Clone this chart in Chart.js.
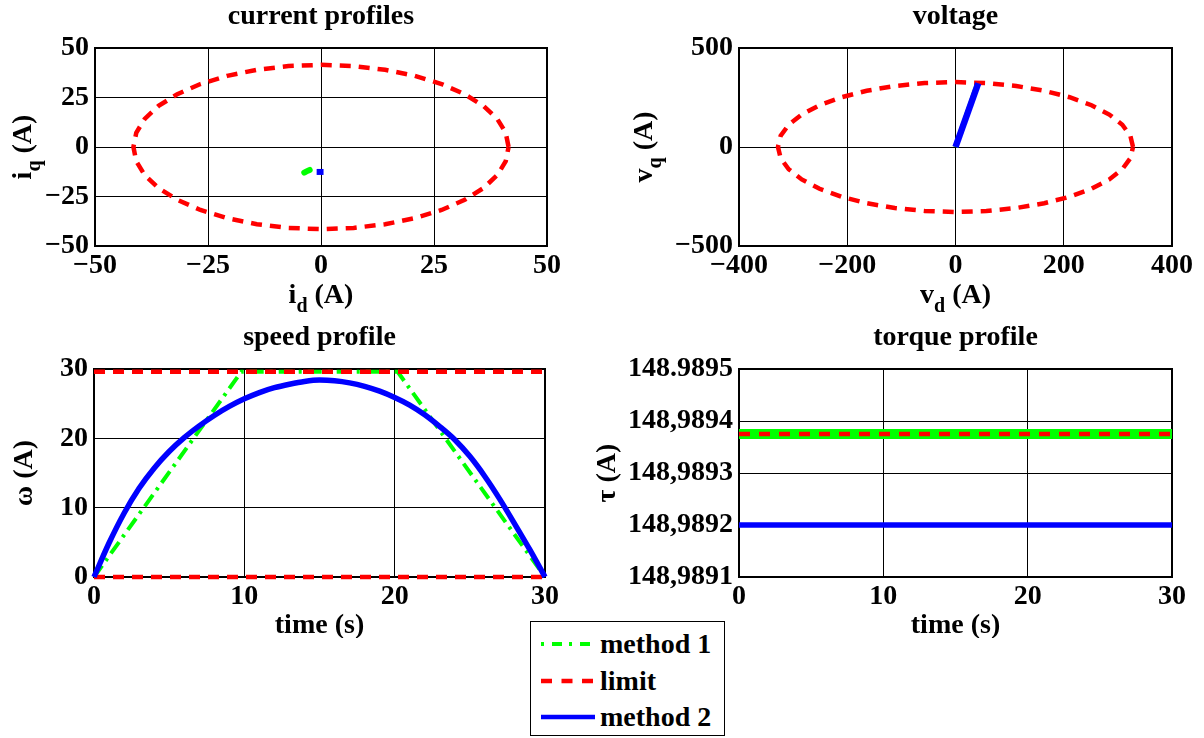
<!DOCTYPE html>
<html lang="en">
<head>
<meta charset="UTF-8">
<title>Current, voltage, speed and torque profiles</title>
<script src="https://cdn.jsdelivr.net/npm/chart.js"></script>
<style>
  body { margin: 0; background: #fff; }
  #wrap { position: relative; width: 1204px; height: 738px; overflow: hidden; background: #fff; }
  #wrap canvas { position: absolute; }
  #legend {
    position: absolute; left: 530px; top: 621px; width: 193px; height: 113px;
    border: 1.5px solid #000; background: #fff;
    font: bold 28px "Liberation Serif", "Times New Roman", serif; color: #000;
  }
  #legend .row { position: absolute; left: 10px; height: 36px; display: flex; align-items: center; }
  #legend svg { margin-right: 5px; }
</style>
</head>
<body>
<div id="wrap">
  <canvas id="cur" width="600" height="320" style="left:0;top:0"></canvas>
  <canvas id="volt" width="604" height="320" style="left:600px;top:0"></canvas>
  <canvas id="speed" width="600" height="318" style="left:0;top:320px"></canvas>
  <canvas id="torque" width="619" height="318" style="left:585px;top:320px"></canvas>
  <div id="legend">
    <div class="row" style="top:4px"><svg width="54" height="10"><line x1="0" y1="5" x2="54" y2="5" stroke="#00ff00" stroke-width="4" stroke-dasharray="3 8 10 7"/></svg><span>method 1</span></div>
    <div class="row" style="top:41px"><svg width="54" height="10"><line x1="0" y1="5" x2="54" y2="5" stroke="#ff0000" stroke-width="4.5" stroke-dasharray="11 9.5"/></svg><span>limit</span></div>
    <div class="row" style="top:77px"><svg width="54" height="10"><line x1="0" y1="5" x2="54" y2="5" stroke="#0000ff" stroke-width="4.5"/></svg><span>method 2</span></div>
  </div>
</div>
<script>
// current plane (A)
const curLimD = [41.5, 40.87, 39.0, 35.94, 31.79, 26.68, 20.75, 14.19, 7.21, 0, -7.21, -14.19, -20.75, -26.68, -31.79, -35.94, -39.0, -40.87, -41.5, -40.87, -39.0, -35.94, -31.79, -26.68, -20.75, -14.19, -7.21, 0, 7.21, 14.19, 20.75, 26.68, 31.79, 35.94, 39.0, 40.87, 41.5];
const curLimQ = [0, 7.21, 14.19, 20.75, 26.68, 31.79, 35.94, 39.0, 40.87, 41.5, 40.87, 39.0, 35.94, 31.79, 26.68, 20.75, 14.19, 7.21, 0, -7.21, -14.19, -20.75, -26.68, -31.79, -35.94, -39.0, -40.87, -41.5, -40.87, -39.0, -35.94, -31.79, -26.68, -20.75, -14.19, -7.21, 0];
const curM1D = [-3.7, -3.2, -2.5];
const curM1Q = [-12.9, -12.3, -11.6];
const curM2D = [-0.3, -0.1];
const curM2Q = [-12.6, -12.6];

// voltage plane
const voltLimD = [328, 323.0, 308.2, 284.1, 251.3, 210.8, 164.0, 112.2, 57.0, 0, -57.0, -112.2, -164.0, -210.8, -251.3, -284.1, -308.2, -323.0, -328, -323.0, -308.2, -284.1, -251.3, -210.8, -164.0, -112.2, -57.0, 0, 57.0, 112.2, 164.0, 210.8, 251.3, 284.1, 308.2, 323.0, 328];
const voltLimQ = [0, 57.0, 112.2, 164.0, 210.8, 251.3, 284.1, 308.2, 323.0, 328, 323.0, 308.2, 284.1, 251.3, 210.8, 164.0, 112.2, 57.0, 0, -57.0, -112.2, -164.0, -210.8, -251.3, -284.1, -308.2, -323.0, -328, -323.0, -308.2, -284.1, -251.3, -210.8, -164.0, -112.2, -57.0, 0];
const voltM1D = [0, 41];
const voltM1Q = [0, 321];
const voltM2D = [0, 42];
const voltM2Q = [0, 322];

// speed profile
const speedM1Time = [0, 9.8, 20.2, 30];
const speedM1 = [0, 29.6, 29.6, 0];
const speedM2Time = [0, 1, 2, 3, 4, 5, 6, 7, 8, 9, 10, 11, 12, 13, 14, 15, 16, 17, 18, 19, 20, 21, 22, 23, 24, 25, 26, 27, 28, 29, 30];
const speedM2 = [0, 4.9, 9.2, 12.8, 15.7, 18.1, 20.1, 21.8, 23.3, 24.6, 25.7, 26.6, 27.3, 27.8, 28.2, 28.4, 28.3, 28.0, 27.5, 26.8, 25.9, 24.8, 23.4, 21.7, 19.8, 17.4, 14.5, 11.2, 7.6, 3.9, 0];
const speedLimTime = [0, 30];
const speedLimHigh = [29.6, 29.6];
const speedLimLow = [0, 0];

// torque profile
const torqueTime = [0, 10, 20, 30];
const torqueM1 = [148.989375, 148.989375, 148.989375, 148.989375];
const torqueLim = [148.989375, 148.989375, 148.989375, 148.989375];
const torqueM2 = [148.98920, 148.98920, 148.98920, 148.98920];
const torqueTickVals = [148.9891, 148.9892, 148.9893, 148.9894, 148.9895];
const torqueTickLabels = ['148,9891', '148,9892', '148,9893', '148,9894', '148.9895'];

Chart.defaults.font.family = '"Liberation Serif", "Times New Roman", serif';
Chart.defaults.font.weight = 'bold';
Chart.defaults.font.size = 28;
Chart.defaults.color = '#000';

const GREEN = '#00ff00', RED = '#ff0000', BLUE = '#0000ff';

function pts(xs, ys) {
  return xs.map((x, i) => ({ x: x, y: ys[i] }));
}

function minus(v) {
  return v < 0 ? '\u2212' + Math.abs(v) : String(v);
}

function line(label, xs, ys, color, width, dash, order, extra) {
  return Object.assign({
    label: label, data: pts(xs, ys), showLine: true, pointRadius: 0,
    borderColor: color, backgroundColor: color, borderWidth: width,
    borderDash: dash || [], order: order, clip: 8
  }, extra || {});
}

// box round the plot area, drawn under the lines
const frame = {
  id: 'frame',
  beforeDatasetsDraw(chart) {
    const { ctx, chartArea: a } = chart;
    ctx.save();
    ctx.strokeStyle = '#000';
    ctx.lineWidth = 2;
    ctx.strokeRect(a.left, a.top, a.right - a.left, a.bottom - a.top);
    ctx.restore();
  }
};

// axis titles with optional subscripts: parts = [[text, isSub], ...]
function drawParts(ctx, parts, cx, cy) {
  const big = 'bold 28px "Liberation Serif", serif';
  const small = 'bold 20px "Liberation Serif", serif';
  let total = 0;
  parts.forEach(p => { ctx.font = p[1] ? small : big; total += ctx.measureText(p[0]).width; });
  let x = cx - total / 2;
  parts.forEach(p => {
    ctx.font = p[1] ? small : big;
    ctx.fillText(p[0], x, cy + (p[1] ? 11 : 0));
    x += ctx.measureText(p[0]).width;
  });
}

function axisTitles(xParts, yParts, xOff, yOff) {
  return {
    id: 'axisTitles',
    afterDraw(chart) {
      const { ctx, chartArea: a } = chart;
      ctx.save();
      ctx.fillStyle = '#000';
      ctx.textBaseline = 'middle';
      ctx.textAlign = 'left';
      drawParts(ctx, xParts, (a.left + a.right) / 2, a.bottom + xOff);
      ctx.translate(a.left - yOff, (a.top + a.bottom) / 2);
      ctx.rotate(-Math.PI / 2);
      drawParts(ctx, yParts, 0, 0);
      ctx.restore();
    }
  };
}

function axis(min, max, step, size, isX, extra) {
  return Object.assign({
    type: 'linear', min: min, max: max,
    ticks: { stepSize: step, padding: isX ? 3 : 6, autoSkip: false, maxRotation: 0, callback: minus },
    grid: { color: '#000', lineWidth: 1, drawTicks: false },
    border: { display: false },
    afterFit: s => { if (isX) s.height = size; else s.width = size; }
  }, extra || {});
}

function makeChart(id, o) {
  return new Chart(document.getElementById(id), {
    type: 'scatter',
    data: { datasets: o.datasets },
    options: {
      responsive: false,
      animation: false,
      events: [],
      layout: { padding: { top: o.padTop, right: o.padRight, left: 0, bottom: 0 } },
      plugins: {
        legend: { display: false },
        tooltip: { enabled: false },
        title: {
          display: true, text: o.title, fullSize: false,
          font: { size: 28, weight: 'bold' }, color: '#000',
          padding: { top: 0, bottom: 14.4 }
        }
      },
      scales: { x: o.x, y: o.y }
    },
    plugins: [frame, axisTitles(o.xTitle, o.yTitle, o.xOff, o.yOff)]
  });
}

makeChart('cur', {
  title: 'current profiles', padTop: 0, padRight: 53,
  x: axis(-50, 50, 25, 74, true),
  y: axis(-50, 50, 25, 95, false),
  xTitle: [['i', false], ['d', true], [' (A)', false]],
  yTitle: [['i', false], ['q', true], [' (A)', false]],
  xOff: 50, yOff: 71,
  datasets: [
    line('method 1', curM1D, curM1Q, GREEN, 6, [], 3, { borderCapStyle: 'round' }),
    line('limit', curLimD, curLimQ, RED, 4.5, [11, 8], 2),
    line('method 2', curM2D, curM2Q, BLUE, 6, [], 1, { borderCapStyle: 'square' })
  ]
});

makeChart('volt', {
  title: 'voltage', padTop: 0, padRight: 32,
  x: axis(-400, 400, 200, 74, true),
  y: axis(-500, 500, 500, 139, false),
  xTitle: [['v', false], ['d', true], [' (A)', false]],
  yTitle: [['v', false], ['q', true], [' (A)', false]],
  xOff: 50, yOff: 94,
  datasets: [
    line('method 1', voltM1D, voltM1Q, GREEN, 5, [], 3),
    line('limit', voltLimD, voltLimQ, RED, 4.5, [11, 8], 2),
    line('method 2', voltM2D, voltM2Q, BLUE, 6.5, [], 1)
  ]
});

makeChart('speed', {
  title: 'speed profile', padTop: 1, padRight: 55,
  x: axis(0, 30, 10, 61, true),
  y: axis(0, 30, 10, 94, false),
  xTitle: [['time (s)', false]],
  yTitle: [['\u03c9 (A)', false]],
  xOff: 49, yOff: 69,
  datasets: [
    line('method 1', speedM1Time, speedM1, GREEN, 4, [14, 6, 3, 6], 3),
    line('limit', speedLimTime, speedLimHigh, RED, 4.5, [11, 8], 2),
    line('limit', speedLimTime, speedLimLow, RED, 4.5, [11, 8], 2),
    line('method 2', speedM2Time, speedM2, BLUE, 5.5, [], 1, { cubicInterpolationMode: 'monotone' })
  ]
});

makeChart('torque', {
  title: 'torque profile', padTop: 1, padRight: 32,
  x: axis(0, 30, 10, 61, true),
  y: axis(148.9891, 148.9895, 0.0001, 154, false, {
    afterBuildTicks: s => { s.ticks = torqueTickVals.map(v => ({ value: v })); },
    ticks: { padding: 6, autoSkip: false, callback: (v, i) => torqueTickLabels[i] }
  }),
  xTitle: [['time (s)', false]],
  yTitle: [['\u03c4 (A)', false]],
  xOff: 49, yOff: 131,
  datasets: [
    line('method 1', torqueTime, torqueM1, GREEN, 10, [], 3),
    line('limit', torqueTime, torqueLim, RED, 4.5, [11, 9], 2),
    line('method 2', torqueTime, torqueM2, BLUE, 5.5, [], 1)
  ]
});
</script>
</body>
</html>
